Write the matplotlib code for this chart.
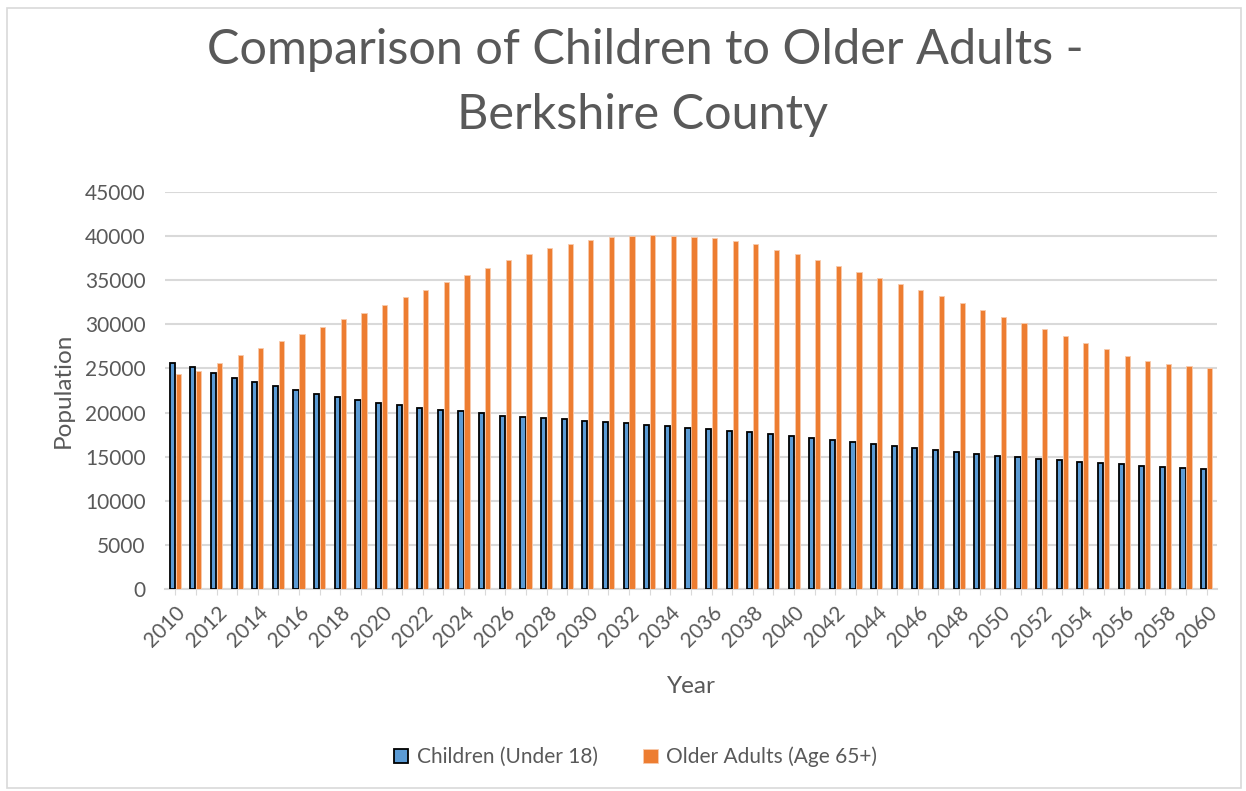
import numpy as np
import matplotlib.pyplot as plt
from matplotlib.patches import Rectangle

plt.rcParams['font.family'] = ['Lato', 'DejaVu Sans']

years = list(range(2010, 2061))
children = [25660, 25130, 24520, 23920, 23470, 22980, 22560, 22110, 21730, 21430,
            21120, 20860, 20560, 20290, 20150, 19950, 19650, 19500, 19390, 19240,
            19090, 18930, 18780, 18590, 18440, 18290, 18100, 17950, 17770, 17540,
            17310, 17090, 16860, 16630, 16400, 16180, 15950, 15730, 15530, 15310,
            15120, 14930, 14740, 14590, 14400, 14290, 14140, 13980, 13870, 13720,
            13610]
older = [24340, 24680, 25660, 26530, 27360, 28120, 28910, 29740, 30580, 31330,
         32200, 33070, 33940, 34810, 35640, 36430, 37270, 37980, 38630, 39120,
         39570, 39910, 40020, 40100, 39990, 39910, 39800, 39460, 39080, 38470,
         37980, 37340, 36660, 35940, 35220, 34580, 33900, 33220, 32430, 31630,
         30880, 30120, 29480, 28690, 27850, 27180, 26450, 25850, 25550, 25280,
         25020]

txt = '#595959'
fig = plt.figure(figsize=(12.46, 7.91), dpi=100)
fig.patches.append(Rectangle((0.006, 0.004), 0.99, 0.986, transform=fig.transFigure,
                             fill=False, edgecolor='#D9D9D9', linewidth=1.2))
ax = fig.add_axes([0.1324, 0.2554, 0.8443, 0.5019])

x = np.arange(len(years))
w = 0.25
ax.bar(x - 0.145, children, w, color='#5B9BD5', edgecolor='black', linewidth=1.3,
       label='Children (Under 18)', zorder=3)
ax.bar(x + 0.145, older, w, color='#ED7D31', edgecolor='#F8CBAD', linewidth=0.6,
       label='Older Adults (Age 65+)', zorder=3)

ax.set_xlim(-0.5, len(years) - 0.5)
ax.set_ylim(0, 45000)
ax.set_yticks(range(0, 45001, 5000))
ax.yaxis.grid(True, color='#D9D9D9', linewidth=1.5, zorder=0)
ax.tick_params(axis='y', length=0, labelsize=15, colors=txt, pad=14)
ax.set_xticks(x)
ax.set_xticklabels([str(y) if (y % 2 == 0) else '' for y in years],
                   rotation=45, ha='right', rotation_mode='anchor')
ax.tick_params(axis='x', length=4, color='#D9D9D9', labelsize=15, labelcolor=txt, pad=6)
for s in ['top', 'right', 'left']:
    ax.spines[s].set_visible(False)
ax.spines['bottom'].set_color('#D9D9D9')
ax.spines['bottom'].set_linewidth(1.5)

ax.set_ylabel('Population', fontsize=17.5, color=txt, labelpad=8)
ax.set_xlabel('Year', fontsize=17.5, color=txt, labelpad=18)

fig.text(0.518, 0.937, 'Comparison of Children to Older Adults -', ha='center', va='center',
         fontsize=35, color=txt)
fig.text(0.516, 0.855, 'Berkshire County', ha='center', va='center',
         fontsize=35, color=txt)

fig.legend(loc='center', bbox_to_anchor=(0.51, 0.043), ncol=2, frameon=False,
           fontsize=15, labelcolor=txt, handlelength=0.7, handleheight=0.7,
           columnspacing=2.2, handletextpad=0.4)

fig.savefig('out.png', dpi=100)
